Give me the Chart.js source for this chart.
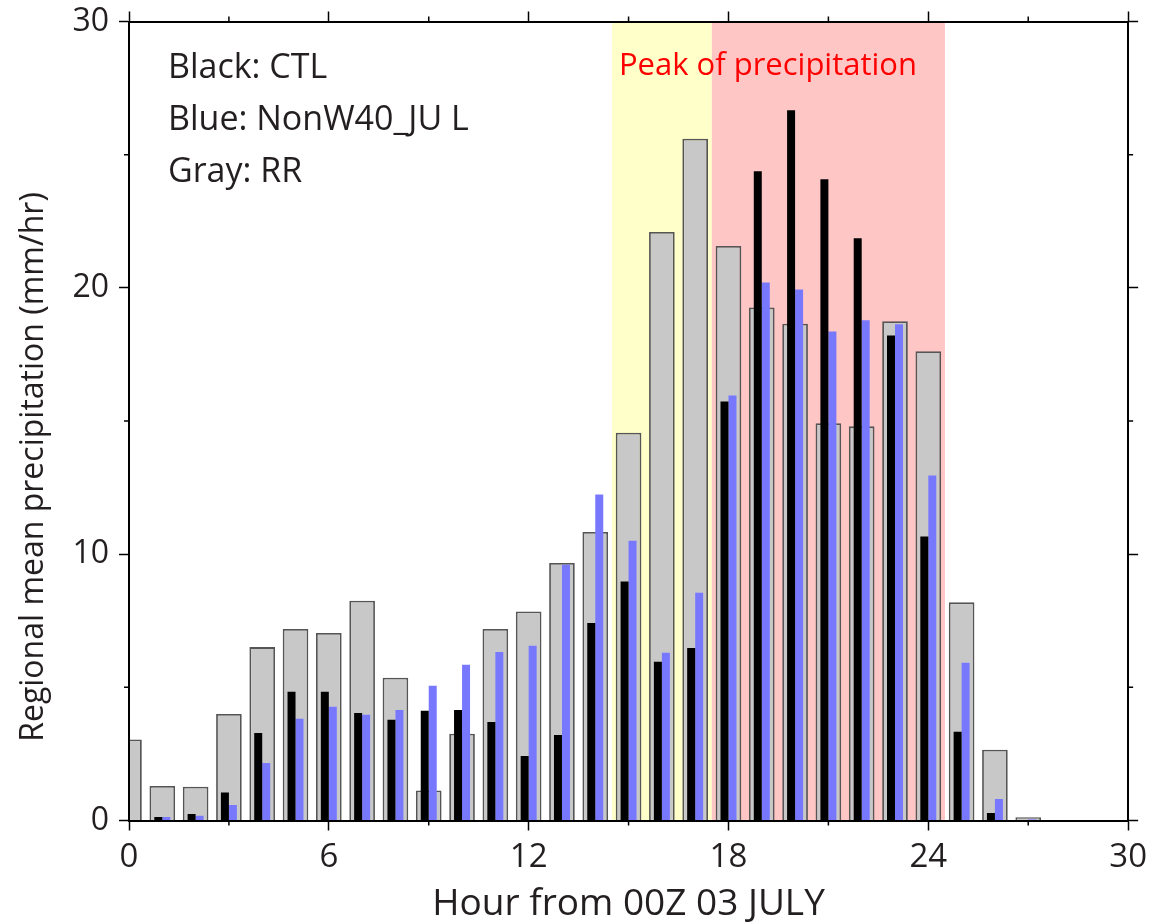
<!DOCTYPE html>
<html><head><meta charset="utf-8">
<script src="https://cdn.jsdelivr.net/npm/chart.js@4.4.1/dist/chart.umd.min.js"></script>
<style>html,body{margin:0;padding:0;background:#fff;}#wrap{width:1154px;height:924px;}</style>
</head><body><div id="wrap"><canvas id="c" width="1154" height="924"></canvas></div>
<script>
const hours = [0,1,2,3,4,5,6,7,8,9,10,11,12,13,14,15,16,17,18,19,20,21,22,23,24,25,26,27,28,29];
const rrValues   = [3.04,1.30,1.27,4.00,6.51,7.19,7.04,8.25,5.36,1.13,3.26,7.19,7.85,9.67,10.83,14.56,22.10,25.60,21.57,19.26,18.65,14.92,14.80,18.75,17.62,8.19,2.66,0.12,0,0];
const ctlValues  = [0,0.13,0.24,1.05,3.29,4.83,4.83,4.04,3.78,4.12,4.15,3.70,2.42,3.21,7.42,8.97,5.96,6.48,15.73,24.38,26.67,24.08,21.86,18.21,10.66,3.33,0.28,0,0,0];
const nonwValues = [0,0.13,0.18,0.58,2.16,3.82,4.27,3.97,4.15,5.06,5.85,6.33,6.56,9.60,12.24,10.50,6.30,8.55,15.96,20.20,19.94,18.36,18.78,18.63,12.95,5.92,0.81,0.04,0,0];
const xMajorTicks = [0,6,12,18,24,30];
const xMinorTicks = [3,9,15,21,27];
const yMajorTicks = [0,10,20,30];
const yMinorTicks = [5,15,25];
const shadeStart = [14.5,17.5];
const shadeEnd = [17.5,24.5];
const shadeColors = ['#FFFFC9','#FFC6C6'];
const legendLines = ['Black: CTL','Blue: NonW40_JU L','Gray: RR'];
const peakLabel = 'Peak of precipitation';
const xTitle = 'Hour from 00Z 03 JULY';
const yTitle = 'Regional mean precipitation (mm/hr)';

const FONT = '"Open Sans", "Noto Sans", sans-serif';
const TXT = '#231F20';
Chart.defaults.font.family = FONT;
Chart.defaults.color = TXT;

const shading = {
  id:'shading',
  beforeDatasetsDraw(chart){
    const {ctx, chartArea:a, scales:{x}} = chart;
    ctx.save();
    shadeStart.forEach((s,i)=>{
      const x1 = x.getPixelForValue(s), x2 = x.getPixelForValue(shadeEnd[i]);
      ctx.fillStyle = shadeColors[i];
      ctx.fillRect(x1, a.top, x2-x1, a.bottom-a.top);
    });
    ctx.restore();
  }
};
const annotations = {
  id:'annotations',
  afterDatasetsDraw(chart){
    const {ctx, chartArea:a, scales:{x}} = chart;
    ctx.save();
    ctx.font = '34px ' + FONT;
    ctx.textBaseline = 'alphabetic';
    ctx.textAlign = 'left';
    ctx.fillStyle = TXT;
    legendLines.forEach((t,i)=>ctx.fillText(t, a.left+39, a.top+56+i*52));
    ctx.font = '31px ' + FONT;
    ctx.fillStyle = '#FF0000';
    ctx.fillText(peakLabel, x.getPixelForValue(shadeStart[0])+7, a.top+53);
    ctx.restore();
  }
};
const minorTicks = {
  id:'minorTicks',
  afterDraw(chart){
    const {ctx, chartArea:a, scales:{x,y}} = chart;
    ctx.save();
    ctx.strokeStyle = '#000'; ctx.lineWidth = 1.5;
    ctx.beginPath();
    xMinorTicks.forEach(v=>{const p=x.getPixelForValue(v);ctx.moveTo(p,a.bottom);ctx.lineTo(p,a.bottom+5);ctx.moveTo(p,a.top);ctx.lineTo(p,a.top-5);});
    yMinorTicks.forEach(v=>{const p=y.getPixelForValue(v);ctx.moveTo(a.left,p);ctx.lineTo(a.left-5,p);ctx.moveTo(a.right,p);ctx.lineTo(a.right+5,p);});
    ctx.stroke();
    ctx.restore();
  }
};

const pts = arr => hours.map((h,i)=>({x:h, y:arr[i]}));
const gridOpts = {drawOnChartArea:false, drawTicks:true, tickLength:10, tickWidth:1.5, tickColor:'#000'};
const borderOpts = {display:true, color:'#000', width:2, z:1};

new Chart(document.getElementById('c'), {
  type:'bar',
  data:{datasets:[
    {label:'CTL', data:pts(ctlValues), backgroundColor:'#000000', borderWidth:0, order:1, grouped:true, categoryPercentage:0.48, barPercentage:1},
    {label:'NonW40_JUL', data:pts(nonwValues), backgroundColor:'#7878FF', borderWidth:0, order:2, grouped:true, categoryPercentage:0.48, barPercentage:1},
    {label:'RR', data:pts(rrValues), backgroundColor:'#C8C8C8', borderColor:'#555555', borderWidth:1.8, order:3, grouped:false, categoryPercentage:0.77, barPercentage:1, clip:0}
  ]},
  options:{
    responsive:false, animation:false,
    layout:{padding:{top:10,left:0,right:0,bottom:0}},
    plugins:{
      legend:{display:false}, tooltip:{enabled:false},
      title:{display:true, position:'left', text:yTitle, color:TXT, font:{family:FONT,size:32,weight:'normal'}, padding:{top:14.6,bottom:0}}
    },
    scales:{
      x:{type:'linear', position:'bottom', min:0, max:30, offset:false,
         afterBuildTicks:s=>{s.ticks=xMajorTicks.map(v=>({value:v}));},
         afterFit:s=>{s.height=103.5;},
         ticks:{font:{size:33}, color:TXT, padding:7, maxRotation:0, autoSkip:false},
         grid:Object.assign({offset:false}, gridOpts), border:borderOpts,
         title:{display:true, text:xTitle, color:TXT, font:{size:37}, padding:{top:0,bottom:-3}}},
      x2:{type:'linear', position:'top', min:0, max:30, offset:false,
         afterBuildTicks:s=>{s.ticks=xMajorTicks.map(v=>({value:v}));},
         afterFit:s=>{s.height=11.5;},
         ticks:{display:false}, grid:Object.assign({offset:false}, gridOpts), border:borderOpts},
      y:{type:'linear', position:'left', min:0, max:30,
         afterBuildTicks:s=>{s.ticks=yMajorTicks.map(v=>({value:v}));},
         afterFit:s=>{s.width=76;},
         ticks:{font:{size:32, lineHeight:0.6}, color:TXT, padding:10},
         grid:gridOpts, border:borderOpts},
      y2:{type:'linear', position:'right', min:0, max:30,
         afterBuildTicks:s=>{s.ticks=yMajorTicks.map(v=>({value:v}));},
         afterFit:s=>{s.width=25;},
         ticks:{display:false}, grid:gridOpts, border:borderOpts}
    }
  },
  plugins:[shading, annotations, minorTicks]
});
</script></body></html>
